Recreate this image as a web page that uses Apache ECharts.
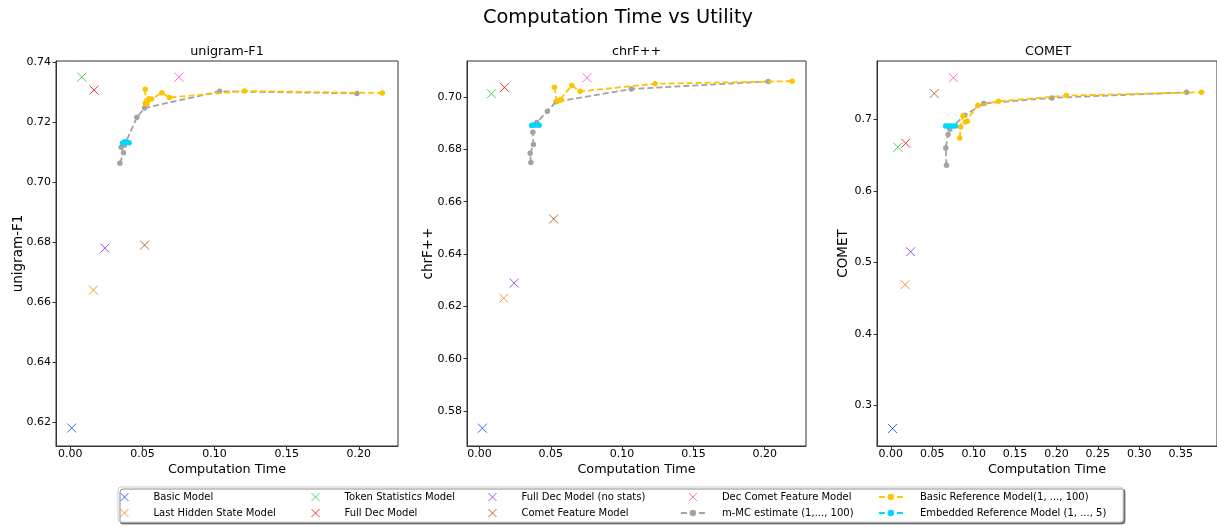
<!DOCTYPE html>
<html>
<head>
<meta charset="utf-8">
<script src="https://cdn.jsdelivr.net/npm/echarts@6/dist/echarts.min.js"></script>
<style>html,body{margin:0;padding:0;background:#fff}#c{width:1217px;height:527px}</style>
</head>
<body>
<div id="c"></div>
<script>
// ---------- DATA ----------
const modelNames = ['Basic Model', 'Last Hidden State Model', 'Token Statistics Model', 'Full Dec Model',
  'Full Dec Model (no stats)', 'Comet Feature Model', 'Dec Comet Feature Model'];
const mmcName = 'm-MC estimate (1,..., 100)';
const basicRefName = 'Basic Reference Model(1, ..., 100)';
const embRefName = 'Embedded Reference Model (1, ..., 5)';
const panelTitles = ['unigram-F1', 'chrF++', 'COMET'];
const xAxisTitle = 'Computation Time';
const mainTitle = 'Computation Time vs Utility';

// unigram-F1
const f1ModelTime  = [0.001, 0.016, 0.008, 0.0165, 0.024, 0.0515, 0.0753];
const f1ModelScore = [0.618, 0.664, 0.735, 0.7307, 0.678, 0.679, 0.735];
const f1MmcTime    = [0.0344, 0.0369, 0.0353, 0.0376, 0.0462, 0.0515, 0.1035, 0.1987];
const f1MmcScore   = [0.7063, 0.7098, 0.7116, 0.7124, 0.7216, 0.7247, 0.7303, 0.7296];
const f1BasicTime  = [0.0520, 0.0520, 0.0545, 0.0532, 0.0563, 0.0635, 0.0688, 0.1208, 0.2164];
const f1BasicScore = [0.7310, 0.7263, 0.7278, 0.7261, 0.7277, 0.7298, 0.7282, 0.7304, 0.7297];
const f1EmbTime    = [0.0362, 0.0374, 0.0386, 0.0398, 0.0408];
const f1EmbScore   = [0.7130, 0.7134, 0.7135, 0.7133, 0.7131];

// chrF++
const chrfModelTime  = [0.002, 0.017, 0.0084, 0.0175, 0.0243, 0.052, 0.0754];
const chrfModelScore = [0.5734, 0.6231, 0.7013, 0.7037, 0.6289, 0.6534, 0.7074];
const chrfMmcTime    = [0.0360, 0.0355, 0.0378, 0.0374, 0.0402, 0.0476, 0.0537, 0.1064, 0.2025];
const chrfMmcScore   = [0.6750, 0.6785, 0.6819, 0.6866, 0.6903, 0.6946, 0.6982, 0.7031, 0.7060];
const chrfBasicTime  = [0.0525, 0.0542, 0.0560, 0.0572, 0.0647, 0.0705, 0.1232, 0.2193];
const chrfBasicScore = [0.7038, 0.6985, 0.6988, 0.6990, 0.7044, 0.7022, 0.7051, 0.7061];
const chrfEmbTime    = [0.0365, 0.0378, 0.0392, 0.0406, 0.0418];
const chrfEmbScore   = [0.6891, 0.6893, 0.6894, 0.6893, 0.6892];

// COMET
const cometModelTime  = [0.002, 0.0172, 0.0084, 0.018, 0.024, 0.0524, 0.0756];
const cometModelScore = [0.268, 0.469, 0.661, 0.6665, 0.515, 0.736, 0.758];
const cometMmcTime    = [0.0672, 0.0664, 0.0691, 0.0712, 0.0892, 0.1123, 0.1944, 0.3572];
const cometMmcScore   = [0.6358, 0.6599, 0.6786, 0.6860, 0.7056, 0.7219, 0.7298, 0.7377];
const cometBasicTime  = [0.0832, 0.0844, 0.0871, 0.0900, 0.0924, 0.1051, 0.1300, 0.2120, 0.3752];
const cometBasicScore = [0.6739, 0.6892, 0.7046, 0.6962, 0.6972, 0.7196, 0.7251, 0.7331, 0.7377];
const cometEmbTime    = [0.0662, 0.0692, 0.0722, 0.0752, 0.0782];
const cometEmbScore   = [0.6905, 0.6906, 0.6907, 0.6906, 0.6905];

// tick labels
const xTicksShort = [0, 0.05, 0.10, 0.15, 0.20];
const xTicksLong  = [0, 0.05, 0.10, 0.15, 0.20, 0.25, 0.30, 0.35];
const f1YTicks    = [0.62, 0.64, 0.66, 0.68, 0.70, 0.72, 0.74];
const chrfYTicks  = [0.58, 0.60, 0.62, 0.64, 0.66, 0.68, 0.70];
const cometYTicks = [0.3, 0.4, 0.5, 0.6, 0.7];

// ---------- STYLE / LAYOUT ----------
const modelColors = ['#023eff', '#ff7c00', '#1ac938', '#e8000b', '#8b2be2', '#9f4800', '#f14cc1'];
const mmcColor = '#a3a3a3', basicColor = '#ffc400', embColor = '#00d7ff';
const FONT = 'DejaVu Sans';
const xIcon = 'path://M0,0L10,10M10,0L0,10';

const panels = [
  { title: panelTitles[0], left: 56, width: 342, xmin: -0.0099, xmax: 0.2272, ymin: 0.612, ymax: 0.7404,
    xt: xTicksShort, yt: f1YTicks, yDec: 2, yGap: 31,
    mT: f1ModelTime, mS: f1ModelScore, aT: f1MmcTime, aS: f1MmcScore, bT: f1BasicTime, bS: f1BasicScore, eT: f1EmbTime, eS: f1EmbScore },
  { title: panelTitles[1], left: 467, width: 339, xmin: -0.0088, xmax: 0.2290, ymin: 0.5666, ymax: 0.7138,
    xt: xTicksShort, yt: chrfYTicks, yDec: 2, yGap: 32,
    mT: chrfModelTime, mS: chrfModelScore, aT: chrfMmcTime, aS: chrfMmcScore, bT: chrfBasicTime, bS: chrfBasicScore, eT: chrfEmbTime, eS: chrfEmbScore },
  { title: panelTitles[2], left: 877, width: 342, xmin: -0.0167, xmax: 0.3939, ymin: 0.2436, ymax: 0.7814,
    xt: xTicksLong, yt: cometYTicks, yDec: 1, yGap: 27,
    mT: cometModelTime, mS: cometModelScore, aT: cometMmcTime, aS: cometMmcScore, bT: cometBasicTime, bS: cometBasicScore, eT: cometEmbTime, eS: cometEmbScore }
];
const TOP = 61, HEIGHT = 385;
const zip = (a, b) => a.map((v, i) => [v, b[i]]);

const grids = [], xAxes = [], yAxes = [], series = [], graphics = [];
panels.forEach((p, k) => {
  grids.push({ left: p.left, top: TOP, width: p.width, height: HEIGHT, show: true,
    borderColor: '#333', borderWidth: 1, backgroundColor: 'transparent', containLabel: false });
  xAxes.push({ type: 'value', gridIndex: k, min: p.xmin, max: p.xmax,
    name: xAxisTitle, nameLocation: 'middle', nameGap: 17, nameMoveOverlap: false,
    nameTextStyle: { fontFamily: FONT, fontSize: 12.8, color: '#000' },
    axisLine: { show: true, onZero: false, lineStyle: { color: '#333', width: 1 } },
    axisTick: { show: true, length: 3.5, customValues: p.xt, lineStyle: { color: '#333' } },
    axisLabel: { customValues: p.xt, margin: 3, fontFamily: FONT, fontSize: 11, color: '#000',
      formatter: v => v.toFixed(2) },
    splitLine: { show: false } });
  yAxes.push({ type: 'value', gridIndex: k, min: p.ymin, max: p.ymax,
    name: p.title, nameLocation: 'middle', nameGap: p.yGap, nameMoveOverlap: false,
    nameTextStyle: { fontFamily: FONT, fontSize: 13.5, color: '#000' },
    axisLine: { show: true, onZero: false, lineStyle: { color: '#333', width: 1 } },
    axisTick: { show: true, length: 3.5, customValues: p.yt, lineStyle: { color: '#333' } },
    axisLabel: { customValues: p.yt, margin: 5, fontFamily: FONT, fontSize: 11, color: '#000',
      formatter: v => v.toFixed(p.yDec) },
    splitLine: { show: false } });
  graphics.push({ type: 'text', x: p.left + p.width / 2, y: 52, z: 10,
    style: { text: p.title, font: '12.8px "' + FONT + '"', fill: '#000', textAlign: 'center', textVerticalAlign: 'middle' } });

  modelNames.forEach((n, i) => {
    series.push({ type: 'scatter', name: n, xAxisIndex: k, yAxisIndex: k,
      data: [[p.mT[i], p.mS[i]]], symbol: xIcon, symbolSize: 9,
      itemStyle: { color: 'transparent', borderColor: modelColors[i], borderWidth: 1 },
      emphasis: { disabled: true }, animation: false, z: 2 });
  });
  const lineSeries = (name, xs, ys, color, z) => ({
    type: 'line', name, xAxisIndex: k, yAxisIndex: k, data: zip(xs, ys),
    symbol: 'circle', symbolSize: 5.5, showSymbol: true,
    itemStyle: { color }, lineStyle: { color, width: 1.8, type: [6, 3] },
    emphasis: { disabled: true }, animation: false, z });
  series.push(lineSeries(mmcName, p.aT, p.aS, mmcColor, 3));
  series.push(lineSeries(basicRefName, p.bT, p.bS, basicColor, 4));
  series.push(lineSeries(embRefName, p.eT, p.eS, embColor, 5));
});

// legend: five columns of two rows
const legendCols = [
  [modelNames[0], modelNames[1]],
  [modelNames[2], modelNames[3]],
  [modelNames[4], modelNames[5]],
  [modelNames[6], mmcName],
  [basicRefName, embRefName]
];
const legendLefts = [120, 311, 488, 680, 878];
const legends = legendCols.map((cols, i) => ({
  data: cols, orient: 'vertical', left: legendLefts[i], top: 492,
  itemWidth: 24, itemHeight: 8, itemGap: 6, padding: 0, selectedMode: false,
  itemStyle: { borderWidth: 1 },
  lineStyle: { width: 1.8 },
  textStyle: { fontFamily: FONT, fontSize: 10, color: '#000', padding: [0, 0, 0, 12] }
}));

graphics.push({ type: 'rect', z: -1, shape: { x: 118, y: 487, width: 1005, height: 35, r: 3 },
  style: { fill: '#fff', stroke: '#cfcfcf', lineWidth: 1, shadowColor: 'rgba(0,0,0,0.45)', shadowOffsetX: 2, shadowOffsetY: 2, shadowBlur: 0 } });
graphics.push({ type: 'text', x: 618, y: 18, z: 10,
  style: { text: mainTitle, font: '19.4px "' + FONT + '"', fill: '#000', textAlign: 'center', textVerticalAlign: 'middle' } });

const chart = echarts.init(document.getElementById('c'), null, { renderer: 'canvas' });
chart.setOption({
  animation: false,
  backgroundColor: '#fff',
  grid: grids, xAxis: xAxes, yAxis: yAxes, series, legend: legends, graphic: graphics
});
</script>
</body>
</html>
